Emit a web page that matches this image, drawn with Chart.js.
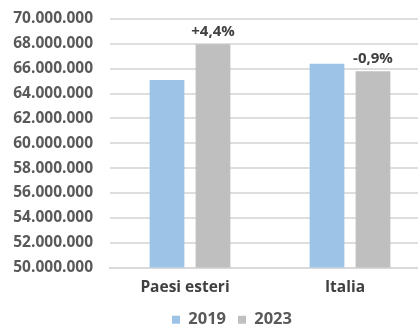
<!DOCTYPE html>
<html>
<head>
<meta charset="utf-8">
<script src="https://cdn.jsdelivr.net/npm/chart.js@4/dist/chart.umd.min.js"></script>
<style>
  html, body { margin: 0; padding: 0; background: #fff; overflow: hidden; }
  #wrap { width: 430px; height: 332px; }
</style>
</head>
<body>
<div id="wrap"><canvas id="c" width="430" height="332"></canvas></div>
<script>
// Arrivals by origin, 2019 vs 2023
const categories = ['Paesi esteri', 'Italia'];
const years = ['2019', '2023'];
const values2019 = [65100000, 66400000];
const values2023 = [67960000, 65800000];
const yTicks = [50000000, 52000000, 54000000, 56000000, 58000000, 60000000,
                62000000, 64000000, 66000000, 68000000, 70000000];

const fmtInt = v => String(Math.round(v)).replace(/\B(?=(\d{3})+(?!\d))/g, '.');
const fmtPct = p => (p >= 0 ? '+' : '-') + Math.abs(p).toFixed(1).replace('.', ',') + '%';

const FONT = '"Open Sans", "DejaVu Sans", sans-serif';

// Percent change written above each 2023 bar
const changeLabels = {
  id: 'changeLabels',
  afterDatasetsDraw(chart) {
    const ctx = chart.ctx;
    const meta = chart.getDatasetMeta(1);
    ctx.save();
    ctx.font = 'bold 15px ' + FONT;
    ctx.fillStyle = '#404040';
    ctx.textAlign = 'center';
    ctx.textBaseline = 'bottom';
    meta.data.forEach((bar, i) => {
      const pct = (values2023[i] - values2019[i]) / values2019[i] * 100;
      ctx.fillText(fmtPct(pct), bar.x, bar.y - 5);
    });
    ctx.restore();
  }
};

// Nudge the legend row to the right of the canvas centre
const legendShift = {
  id: 'legendShift',
  afterLayout(chart) {
    const lg = chart.legend;
    if (lg) { lg.left += 17; lg.right += 17; }
  }
};

new Chart(document.getElementById('c'), {
  type: 'bar',
  data: {
    labels: categories,
    datasets: [
      { label: years[0], data: values2019, backgroundColor: '#9DC3E6' },
      { label: years[1], data: values2023, backgroundColor: '#BFBFBF' }
    ]
  },
  options: {
    responsive: false,
    animation: false,
    layout: { padding: { top: 19, left: 0, right: 0, bottom: -6 } },
    datasets: { bar: { categoryPercentage: 0.575, barPercentage: 0.755 } },
    plugins: {
      legend: {
        position: 'bottom',
        labels: {
          usePointStyle: true,
          pointStyle: 'rect',
          boxWidth: 8,
          boxHeight: 8,
          padding: 12,
          color: '#595959',
          font: { family: FONT, size: 16.5, weight: 'bold' }
        }
      },
      tooltip: { enabled: false }
    },
    scales: {
      x: {
        afterFit(scale) { scale.height = 32; },
        grid: { display: false, drawTicks: false },
        border: { display: true, color: '#D9D9D9', width: 2 },
        ticks: {
          color: '#404040',
          padding: 11,
          labelOffset: -5,
          font: { family: FONT, size: 15.5, weight: 'bold' }
        }
      },
      y: {
        min: 50000000,
        max: 70000000,
        afterFit(scale) {
          scale.width = 110;
          scale.paddingTop = 0;
          scale.paddingBottom = 0;
        },
        afterBuildTicks(scale) { scale.ticks = yTicks.map(v => ({ value: v })); },
        grid: { color: '#DEDEDE', lineWidth: 2, drawTicks: false },
        border: { display: false },
        ticks: {
          color: '#595959',
          padding: 17,
          font: { family: FONT, size: 15.5, weight: 'bold' },
          callback: v => fmtInt(v)
        }
      }
    }
  },
  plugins: [changeLabels, legendShift]
});
</script>
</body>
</html>
